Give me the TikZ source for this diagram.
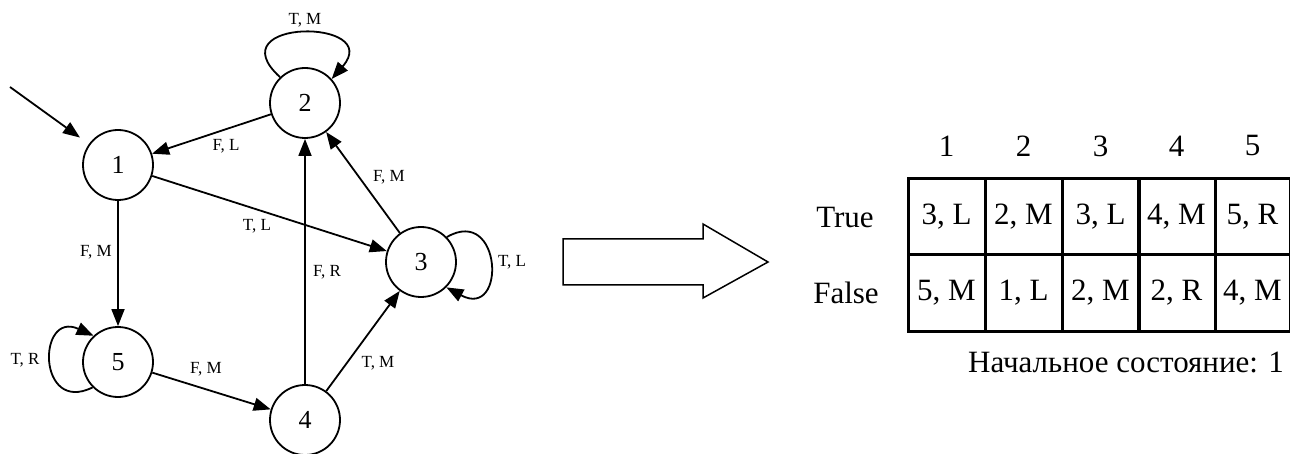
\documentclass[tikz,border=0pt]{standalone}
\usepackage{fontspec}
\setmainfont{Liberation Serif}
\usetikzlibrary{arrows.meta}
\begin{document}
\begin{tikzpicture}[x=1pt,y=-1pt,
  state/.style={circle, draw, line width=1.8pt, minimum size=70pt, inner sep=0pt, font=\fontsize{26}{26}\selectfont},
  edge/.style={line width=1.8pt, -{Triangle[length=17pt,width=13pt]}},
  lbl/.style={font=\fontsize{17}{17}\selectfont, inner sep=0pt},
  cell/.style={draw, line width=3pt, minimum width=77pt, minimum height=76pt, inner sep=0pt, font=\fontsize{31}{31}\selectfont},
  big/.style={font=\fontsize{31}{31}\selectfont, inner sep=0pt}]
\useasboundingbox (0,0) rectangle (1290,454);
% states
\node[state] (n1) at (118,165) {1};
\node[state] (n2) at (305,103) {2};
\node[state] (n3) at (421,262) {3};
\node[state] (n4) at (305,420) {4};
\node[state] (n5) at (118,362) {5};
\coordinate (start) at (10,87);
% edges
\draw[edge, shorten >=11pt] (start) -- (n1);
\draw[edge] (n2) -- (n1);
\draw[edge] (n1) -- (n3);
\draw[edge] (n3) -- (n2);
\draw[edge] (n1) -- (n5);
\draw[edge] (n4) -- (n2);
\draw[edge] (n5) -- (n4);
\draw[edge] (n4) -- (n3);
\draw[edge] (n2.134) .. controls (215,18) and (385,18) .. (n2.42);
\draw[edge] (n3.44) .. controls (502,205) and (507,320) .. (n3.-45);
\draw[edge] (n5.225) .. controls (37,415) and (37,310) .. (n5.133);
% edge labels
\node[lbl] (l22) at (305,20) {T, M};
\node[lbl] (l21) at (226,146) {F, L};
\node[lbl] (l32) at (389,177) {F, M};
\node[lbl] (l13) at (257,226) {T, L};
\node[lbl] (l15) at (96,252) {F, M};
\node[lbl] (l42) at (327,272) {F, R};
\node[lbl] (l33) at (512,262) {T, L};
\node[lbl] (l55) at (25,360) {T, R};
\node[lbl] (l54) at (206,369) {F, M};
\node[lbl] (l43) at (378,363) {T, M};
% block arrow
\draw[line width=1.5pt, line join=miter] (563,239) -- (703,239) -- (703,224) -- (768,262) -- (703,298) -- (703,285) -- (563,285) -- cycle;
% table
\foreach \x/\w/\t/\f [count=\i] in {946.5/77/{3, L}/{5, M}, 1023.5/77/{2, M}/{1, L}, 1100.5/77/{3, L}/{2, M}, 1176.5/77/{4, M}/{2, R}, 1252.5/75/{5, R}/{4, M}} {
  \node[big] (h\i) at (\x,146) {\i};
  \node[cell, minimum width=\w pt] (t\i) at (\x,217) {\t};
  \node[cell, minimum width=\w pt] (f\i) at (\x,293) {\f};
}
\node[big] (rt) at (845,218) {True};
\node[big] (rf) at (846,293) {False};
\node[big, anchor=east] (init) at (1284,362) {Начальное состояние: 1};
\end{tikzpicture}
\end{document}
